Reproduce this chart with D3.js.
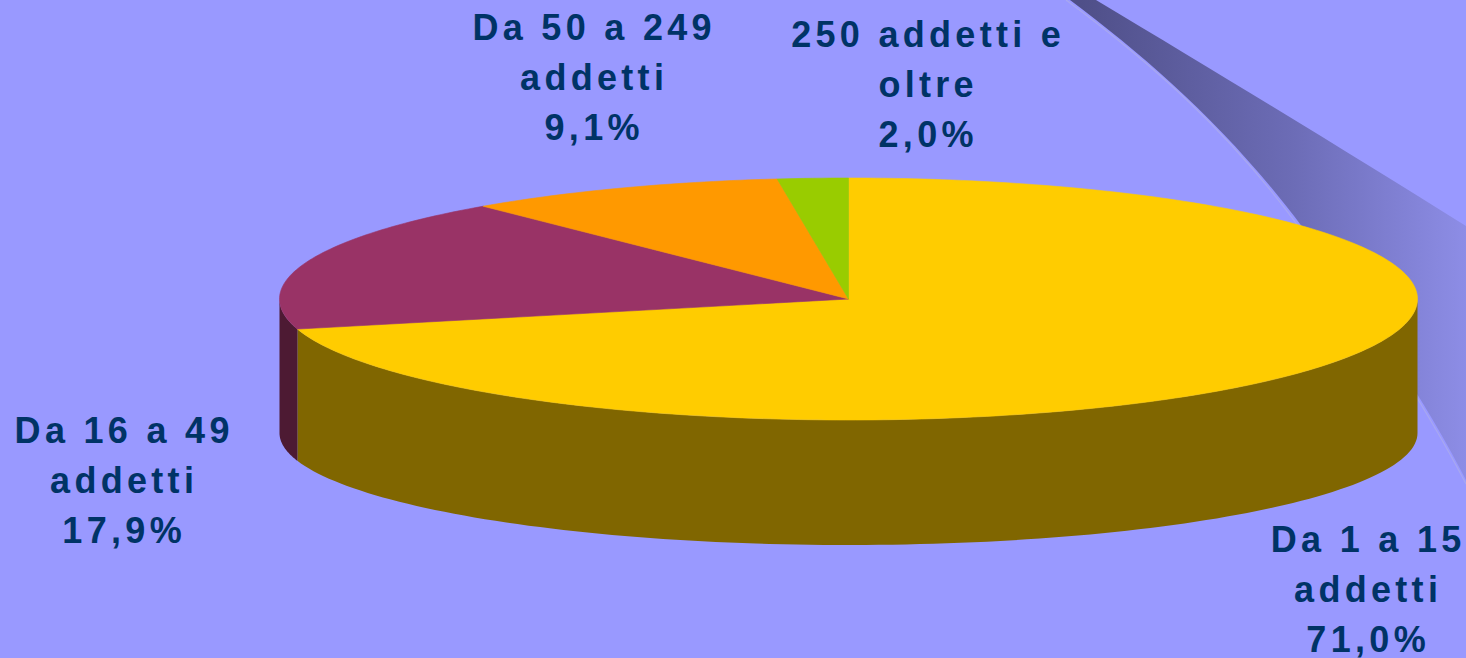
<!DOCTYPE html>
<html>
<head>
<meta charset="utf-8">
<script src="https://cdn.jsdelivr.net/npm/d3@7"></script>
<style>
  html, body { margin: 0; padding: 0; background: #9999FF; overflow: hidden; }
</style>
</head>
<body>
<div id="chart"></div>
<script>
// data
var categories = ['Da 1 a 15 addetti', 'Da 16 a 49 addetti', 'Da 50 a 249 addetti', '250 addetti e oltre'];
var values = [71.0, 17.9, 9.1, 2.0];
var labelLines = [['Da 1 a 15', 'addetti'], ['Da 16 a 49', 'addetti'], ['Da 50 a 249', 'addetti'], ['250 addetti e', 'oltre']];
var topColors = ['#FFCC00', '#993366', '#FF9900', '#99CC00'];
var sideColors = ['#806600', '#4D1A33', '#804C00', '#4D6600'];

(function() {
  var width = 1466;
  var height = 658;

  // ellipse of the pie (top face) and of the bottom edge
  var cx = 848.5, cy = 299, rx = 569, ry = 121;
  var cyB = 433, ryB = 112;

  // where the labels sit (centre x, first baseline)
  var labelPos = [[1366, 552], [122, 443], [592, 40], [926, 47]];
  var ls = 4.3;

  var svg = d3.select('#chart')
    .append('svg')
    .attr('width', width)
    .attr('height', height);

  var defs = svg.append('defs');
  var grad = defs.append('linearGradient')
    .attr('id', 'swoosh')
    .attr('gradientUnits', 'userSpaceOnUse')
    .attr('x1', 1080).attr('y1', 0)
    .attr('x2', 1466).attr('y2', 0);
  grad.append('stop').attr('offset', 0).attr('stop-color', '#4f4f88');
  grad.append('stop').attr('offset', 0.55).attr('stop-color', '#6c6cb6');
  grad.append('stop').attr('offset', 1).attr('stop-color', '#8d8de6');

  svg.append('rect')
    .attr('width', width)
    .attr('height', height)
    .attr('fill', '#9999FF');

  // background decoration in the top right corner
  svg.append('path')
    .attr('d', 'M1076,0 L1096,0 C1230,80 1360,160 1466,226 L1466,480 C1420,390 1350,290 1303,228 C1230,130 1150,60 1070,0 Z')
    .attr('fill', 'url(#swoosh)');
  svg.append('path')
    .attr('d', 'M1066,0 C1150,62 1230,132 1301,230 C1350,292 1418,392 1466,484')
    .attr('fill', 'none')
    .attr('stroke', '#a8a8f0')
    .attr('stroke-width', 1.2);

  var pie = d3.pie().sort(null).value(function(d) { return d; });
  var arcs = pie(values);

  function topPt(a) { return [cx + rx * Math.sin(a), cy - ry * Math.cos(a)]; }
  function botPt(a) { return [cx + rx * Math.sin(a), cyB - ryB * Math.cos(a)]; }

  var line = d3.line();

  // outer walls (front half only)
  var walls = svg.append('g');
  arcs.forEach(function(d, i) {
    var a0 = Math.max(d.startAngle, Math.PI / 2);
    var a1 = Math.min(d.endAngle, Math.PI * 3 / 2);
    if (a0 >= a1) return;
    var steps = d3.range(0, 121).map(function(k) { return a0 + (a1 - a0) * k / 120; });
    var pts = steps.map(topPt).concat(steps.slice().reverse().map(botPt));
    walls.append('path')
      .attr('d', line(pts) + 'Z')
      .attr('fill', sideColors[i]);
  });

  // top faces
  var faces = svg.append('g');
  arcs.forEach(function(d, i) {
    var n = Math.max(2, Math.ceil((d.endAngle - d.startAngle) * 60));
    var pts = [[cx, cy]].concat(d3.range(0, n + 1).map(function(k) {
      return topPt(d.startAngle + (d.endAngle - d.startAngle) * k / n);
    }));
    faces.append('path')
      .attr('d', line(pts) + 'Z')
      .attr('fill', topColors[i])
      .attr('stroke', topColors[i])
      .attr('stroke-width', 0.6);
  });

  // labels
  var it = d3.formatLocale({ decimal: ',', thousands: '.', grouping: [3], currency: ['', '€'] });
  var fmt = it.format('.1f');

  var labels = svg.append('g')
    .attr('font-family', '"Liberation Sans", Arial, sans-serif')
    .attr('font-weight', 'bold')
    .attr('font-size', 36)
    .attr('letter-spacing', ls)
    .attr('fill', '#003366')
    .attr('text-anchor', 'middle');

  arcs.forEach(function(d, i) {
    var t = labels.append('text')
      .attr('x', labelPos[i][0] + ls / 2)
      .attr('y', labelPos[i][1]);
    var lines = labelLines[i].concat([fmt(values[i]) + '%']);
    lines.forEach(function(s, k) {
      t.append('tspan')
        .attr('x', labelPos[i][0] + ls / 2)
        .attr('y', labelPos[i][1] + k * 50)
        .text(s);
    });
  });
})();
</script>
</body>
</html>
